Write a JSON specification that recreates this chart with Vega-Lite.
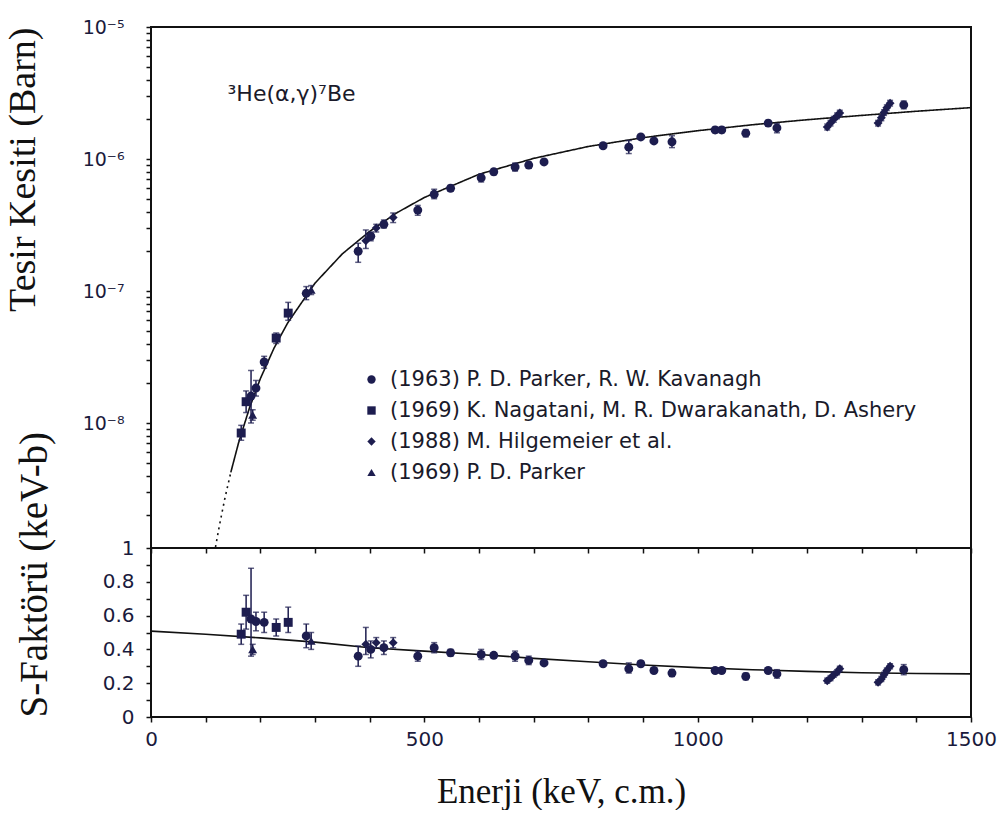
{
  "$schema": "https://vega.github.io/schema/vega-lite/v6.json",
  "background": "white",
  "padding": {"left": 3, "top": 17, "right": 10, "bottom": 0},
  "config": {
    "view": {"stroke": "#111", "strokeWidth": 2, "fill": null},
    "axis": {"grid": false, "domain": false, "ticks": true, "zindex": 2, "tickColor": "#111", "tickOpacity": 1, "tickWidth": 1.5, "tickSize": 5, "offset": 0, "labelFont": "DejaVu Sans", "labelColor": "#1a1a3c", "labelFontSize": 20, "titleFont": "Liberation Serif", "titleFontWeight": "normal", "titleColor": "#111", "titleFontSize": 34, "labelOverlap": false, "labelFlush": false}
  },
  "datasets": {
    "pts": [
      {"E": 165, "sig": 8.4e-9, "sigLo": 7.4e-9, "sigHi": 9.6e-9, "S": 0.49, "sLo": 0.43, "sHi": 0.55, "series": "(1969) K. Nagatani, M. R. Dwarakanath, D. Ashery"},
      {"E": 174, "sig": 1.45e-8, "sigLo": 1.2e-8, "sigHi": 1.75e-8, "S": 0.62, "sLo": 0.52, "sHi": 0.72, "series": "(1969) K. Nagatani, M. R. Dwarakanath, D. Ashery"},
      {"E": 183, "sig": 1.6e-8, "sigLo": 1.0e-8, "sigHi": 2.5e-8, "S": 0.58, "sLo": 0.36, "sHi": 0.88, "series": "(1963) P. D. Parker, R. W. Kavanagh"},
      {"E": 186, "sig": 1.15e-8, "sigLo": 1.05e-8, "sigHi": 1.26e-8, "S": 0.4, "sLo": 0.37, "sHi": 0.43, "series": "(1969) P. D. Parker"},
      {"E": 192, "sig": 1.84e-8, "sigLo": 1.6e-8, "sigHi": 2.1e-8, "S": 0.565, "sLo": 0.51, "sHi": 0.62, "series": "(1963) P. D. Parker, R. W. Kavanagh"},
      {"E": 207, "sig": 2.9e-8, "sigLo": 2.6e-8, "sigHi": 3.2e-8, "S": 0.56, "sLo": 0.5, "sHi": 0.62, "series": "(1963) P. D. Parker, R. W. Kavanagh"},
      {"E": 229, "sig": 4.4e-8, "sigLo": 4.0e-8, "sigHi": 4.8e-8, "S": 0.53, "sLo": 0.48, "sHi": 0.58, "series": "(1969) K. Nagatani, M. R. Dwarakanath, D. Ashery"},
      {"E": 251, "sig": 6.8e-8, "sigLo": 6.0e-8, "sigHi": 8.2e-8, "S": 0.56, "sLo": 0.5, "sHi": 0.65, "series": "(1969) K. Nagatani, M. R. Dwarakanath, D. Ashery"},
      {"E": 284, "sig": 9.6e-8, "sigLo": 8.6e-8, "sigHi": 1.08e-7, "S": 0.48, "sLo": 0.41, "sHi": 0.55, "series": "(1963) P. D. Parker, R. W. Kavanagh"},
      {"E": 293, "sig": 1.02e-7, "sigLo": 9.4e-8, "sigHi": 1.1e-7, "S": 0.45, "sLo": 0.4, "sHi": 0.5, "series": "(1969) P. D. Parker"},
      {"E": 379, "sig": 2.0e-7, "sigLo": 1.65e-7, "sigHi": 2.3e-7, "S": 0.36, "sLo": 0.3, "sHi": 0.42, "series": "(1963) P. D. Parker, R. W. Kavanagh"},
      {"E": 393, "sig": 2.4e-7, "sigLo": 2.1e-7, "sigHi": 2.9e-7, "S": 0.43, "sLo": 0.37, "sHi": 0.53, "series": "(1988) M. Hilgemeier et al."},
      {"E": 402, "sig": 2.6e-7, "sigLo": 2.4e-7, "sigHi": 2.8e-7, "S": 0.4, "sLo": 0.35, "sHi": 0.45, "series": "(1963) P. D. Parker, R. W. Kavanagh"},
      {"E": 412, "sig": 3.0e-7, "sigLo": 2.8e-7, "sigHi": 3.2e-7, "S": 0.44, "sLo": 0.41, "sHi": 0.47, "series": "(1988) M. Hilgemeier et al."},
      {"E": 426, "sig": 3.2e-7, "sigLo": 3.0e-7, "sigHi": 3.45e-7, "S": 0.41, "sLo": 0.37, "sHi": 0.45, "series": "(1963) P. D. Parker, R. W. Kavanagh"},
      {"E": 443, "sig": 3.6e-7, "sigLo": 3.3e-7, "sigHi": 3.9e-7, "S": 0.44, "sLo": 0.41, "sHi": 0.47, "series": "(1988) M. Hilgemeier et al."},
      {"E": 488, "sig": 4.1e-7, "sigLo": 3.75e-7, "sigHi": 4.45e-7, "S": 0.36, "sLo": 0.33, "sHi": 0.39, "series": "(1963) P. D. Parker, R. W. Kavanagh"},
      {"E": 518, "sig": 5.4e-7, "sigLo": 5.0e-7, "sigHi": 5.9e-7, "S": 0.41, "sLo": 0.38, "sHi": 0.44, "series": "(1963) P. D. Parker, R. W. Kavanagh"},
      {"E": 548, "sig": 6.0e-7, "sigLo": 5.7e-7, "sigHi": 6.3e-7, "S": 0.38, "sLo": 0.36, "sHi": 0.4, "series": "(1963) P. D. Parker, R. W. Kavanagh"},
      {"E": 604, "sig": 7.2e-7, "sigLo": 6.7e-7, "sigHi": 7.7e-7, "S": 0.37, "sLo": 0.34, "sHi": 0.4, "series": "(1963) P. D. Parker, R. W. Kavanagh"},
      {"E": 627, "sig": 8.0e-7, "sigLo": 7.6e-7, "sigHi": 8.4e-7, "S": 0.365, "sLo": 0.35, "sHi": 0.38, "series": "(1963) P. D. Parker, R. W. Kavanagh"},
      {"E": 666, "sig": 8.7e-7, "sigLo": 8.1e-7, "sigHi": 9.3e-7, "S": 0.36, "sLo": 0.33, "sHi": 0.39, "series": "(1963) P. D. Parker, R. W. Kavanagh"},
      {"E": 691, "sig": 9.0e-7, "sigLo": 8.5e-7, "sigHi": 9.5e-7, "S": 0.335, "sLo": 0.31, "sHi": 0.36, "series": "(1963) P. D. Parker, R. W. Kavanagh"},
      {"E": 719, "sig": 9.5e-7, "sigLo": 9.1e-7, "sigHi": 9.9e-7, "S": 0.32, "sLo": 0.31, "sHi": 0.33, "series": "(1963) P. D. Parker, R. W. Kavanagh"},
      {"E": 827, "sig": 1.26e-6, "sigLo": 1.21e-6, "sigHi": 1.31e-6, "S": 0.315, "sLo": 0.3, "sHi": 0.33, "series": "(1963) P. D. Parker, R. W. Kavanagh"},
      {"E": 874, "sig": 1.23e-6, "sigLo": 1.1e-6, "sigHi": 1.38e-6, "S": 0.285, "sLo": 0.26, "sHi": 0.32, "series": "(1963) P. D. Parker, R. W. Kavanagh"},
      {"E": 896, "sig": 1.47e-6, "sigLo": 1.42e-6, "sigHi": 1.52e-6, "S": 0.315, "sLo": 0.3, "sHi": 0.33, "series": "(1963) P. D. Parker, R. W. Kavanagh"},
      {"E": 920, "sig": 1.37e-6, "sigLo": 1.32e-6, "sigHi": 1.42e-6, "S": 0.275, "sLo": 0.26, "sHi": 0.29, "series": "(1963) P. D. Parker, R. W. Kavanagh"},
      {"E": 953, "sig": 1.35e-6, "sigLo": 1.22e-6, "sigHi": 1.5e-6, "S": 0.26, "sLo": 0.24, "sHi": 0.28, "series": "(1963) P. D. Parker, R. W. Kavanagh"},
      {"E": 1032, "sig": 1.66e-6, "sigLo": 1.58e-6, "sigHi": 1.74e-6, "S": 0.275, "sLo": 0.26, "sHi": 0.29, "series": "(1963) P. D. Parker, R. W. Kavanagh"},
      {"E": 1044, "sig": 1.66e-6, "sigLo": 1.58e-6, "sigHi": 1.74e-6, "S": 0.275, "sLo": 0.26, "sHi": 0.29, "series": "(1963) P. D. Parker, R. W. Kavanagh"},
      {"E": 1088, "sig": 1.57e-6, "sigLo": 1.47e-6, "sigHi": 1.67e-6, "S": 0.24, "sLo": 0.22, "sHi": 0.26, "series": "(1963) P. D. Parker, R. W. Kavanagh"},
      {"E": 1129, "sig": 1.87e-6, "sigLo": 1.78e-6, "sigHi": 1.96e-6, "S": 0.275, "sLo": 0.26, "sHi": 0.29, "series": "(1963) P. D. Parker, R. W. Kavanagh"},
      {"E": 1145, "sig": 1.72e-6, "sigLo": 1.58e-6, "sigHi": 1.86e-6, "S": 0.255, "sLo": 0.23, "sHi": 0.28, "series": "(1963) P. D. Parker, R. W. Kavanagh"},
      {"E": 1237, "sig": 1.75e-6, "sigLo": 1.66e-6, "sigHi": 1.84e-6, "S": 0.215, "sLo": 0.2, "sHi": 0.23, "series": "(1988) M. Hilgemeier et al."},
      {"E": 1243, "sig": 1.87e-6, "sigLo": 1.78e-6, "sigHi": 1.96e-6, "S": 0.23, "sLo": 0.215, "sHi": 0.245, "series": "(1988) M. Hilgemeier et al."},
      {"E": 1249, "sig": 2.0e-6, "sigLo": 1.9e-6, "sigHi": 2.1e-6, "S": 0.25, "sLo": 0.235, "sHi": 0.265, "series": "(1988) M. Hilgemeier et al."},
      {"E": 1255, "sig": 2.12e-6, "sigLo": 2.02e-6, "sigHi": 2.23e-6, "S": 0.265, "sLo": 0.25, "sHi": 0.28, "series": "(1988) M. Hilgemeier et al."},
      {"E": 1260, "sig": 2.23e-6, "sigLo": 2.12e-6, "sigHi": 2.34e-6, "S": 0.285, "sLo": 0.27, "sHi": 0.3, "series": "(1988) M. Hilgemeier et al."},
      {"E": 1330, "sig": 1.87e-6, "sigLo": 1.78e-6, "sigHi": 1.96e-6, "S": 0.205, "sLo": 0.19, "sHi": 0.22, "series": "(1988) M. Hilgemeier et al."},
      {"E": 1336, "sig": 2.05e-6, "sigLo": 1.95e-6, "sigHi": 2.15e-6, "S": 0.225, "sLo": 0.21, "sHi": 0.24, "series": "(1988) M. Hilgemeier et al."},
      {"E": 1341, "sig": 2.25e-6, "sigLo": 2.14e-6, "sigHi": 2.36e-6, "S": 0.25, "sLo": 0.235, "sHi": 0.265, "series": "(1988) M. Hilgemeier et al."},
      {"E": 1346, "sig": 2.45e-6, "sigLo": 2.33e-6, "sigHi": 2.57e-6, "S": 0.275, "sLo": 0.26, "sHi": 0.29, "series": "(1988) M. Hilgemeier et al."},
      {"E": 1352, "sig": 2.65e-6, "sigLo": 2.52e-6, "sigHi": 2.78e-6, "S": 0.3, "sLo": 0.285, "sHi": 0.315, "series": "(1988) M. Hilgemeier et al."},
      {"E": 1377, "sig": 2.57e-6, "sigLo": 2.4e-6, "sigHi": 2.75e-6, "S": 0.28, "sLo": 0.25, "sHi": 0.31, "series": "(1963) P. D. Parker, R. W. Kavanagh"}
    ],
    "fit": [
      {"E": 118, "sig": 1.15e-9, "seg": "extrapolated"},
      {"E": 125, "sig": 1.66e-9, "seg": "extrapolated"},
      {"E": 135, "sig": 2.67e-9, "seg": "extrapolated"},
      {"E": 146, "sig": 4.23e-9, "seg": "extrapolated"},
      {"E": 146, "sig": 4.23e-9, "seg": "fit"},
      {"E": 160, "sig": 7.03e-9, "seg": "fit"},
      {"E": 180, "sig": 1.297e-8, "seg": "fit"},
      {"E": 200, "sig": 2.166e-8, "seg": "fit"},
      {"E": 225, "sig": 3.69e-8, "seg": "fit"},
      {"E": 250, "sig": 5.73e-8, "seg": "fit"},
      {"E": 300, "sig": 1.147e-7, "seg": "fit"},
      {"E": 350, "sig": 1.912e-7, "seg": "fit"},
      {"E": 400, "sig": 2.83e-7, "seg": "fit"},
      {"E": 450, "sig": 3.92e-7, "seg": "fit"},
      {"E": 500, "sig": 5.11e-7, "seg": "fit"},
      {"E": 600, "sig": 7.66e-7, "seg": "fit"},
      {"E": 700, "sig": 1.011e-6, "seg": "fit"},
      {"E": 800, "sig": 1.244e-6, "seg": "fit"},
      {"E": 900, "sig": 1.451e-6, "seg": "fit"},
      {"E": 1000, "sig": 1.638e-6, "seg": "fit"},
      {"E": 1100, "sig": 1.817e-6, "seg": "fit"},
      {"E": 1200, "sig": 1.984e-6, "seg": "fit"},
      {"E": 1300, "sig": 2.139e-6, "seg": "fit"},
      {"E": 1400, "sig": 2.3e-6, "seg": "fit"},
      {"E": 1500, "sig": 2.45e-6, "seg": "fit"}
    ],
    "fitS": [
      {"E": 0, "S": 0.508}, {"E": 100, "S": 0.49}, {"E": 200, "S": 0.468}, {"E": 300, "S": 0.443},
      {"E": 400, "S": 0.41}, {"E": 500, "S": 0.39}, {"E": 600, "S": 0.37}, {"E": 700, "S": 0.347},
      {"E": 800, "S": 0.327}, {"E": 900, "S": 0.308}, {"E": 1000, "S": 0.292}, {"E": 1100, "S": 0.28},
      {"E": 1200, "S": 0.27}, {"E": 1300, "S": 0.262}, {"E": 1400, "S": 0.257}, {"E": 1500, "S": 0.255}
    ]
  },
  "spacing": 0,
  "bounds": "flush",
  "resolve": {"scale": {"x": "independent", "y": "independent", "shape": "independent"}, "legend": {"shape": "independent"}},
  "vconcat": [
    {
      "width": 820,
      "height": 521,
      "resolve": {"axis": {"x": "independent", "y": "independent"}},
      "layer": [
        {
          "data": {"name": "fit"},
          "mark": {"type": "line", "color": "#111", "strokeWidth": 1.6},
          "encoding": {
            "x": {"field": "E", "type": "quantitative", "scale": {"domain": [0, 1500], "nice": false, "zero": false},
                  "axis": {"orient": "top", "labels": false, "title": null, "ticks": false, "values": [0,500,1000,1500]}},
            "y": {"field": "sig", "type": "quantitative", "scale": {"type": "log", "domain": [1.13e-9, 1e-5], "nice": false},
                  "axis": {"orient": "right", "labels": false, "title": null, "ticks": false, "values": [1e-8,1e-7,1e-6,1e-5]}},
            "strokeDash": {"field": "seg", "type": "nominal", "scale": {"domain": ["fit", "extrapolated"], "range": [[1, 0], [2, 4]]}, "legend": null}
          }
        },
        {
          "data": {"name": "pts"},
          "mark": {"type": "errorbar", "ticks": {"size": 6, "color": "#1d1d4f"}, "color": "#1d1d4f", "thickness": 1.5},
          "encoding": {
            "x": {"field": "E", "type": "quantitative",
                  "axis": {"orient": "bottom", "labels": false, "title": null, "ticks": true, "tickColor": "#111", "tickSize": 5, "offset": 0, "values": [0,100,200,300,400,500,600,700,800,900,1000,1100,1200,1300,1400,1500]}},
            "y": {"field": "sigLo", "type": "quantitative",
                  "axis": {"orient": "left", "title": "Tesir Kesiti (Barn)", "titleAnchor": "end", "titleFontSize": 38, "titlePadding": 40, "labelPadding": 22, "labelFontSize": 19,
                           "ticks": true, "tickColor": "#111", "tickSize": 5, "offset": 0,
                           "values": [2e-9,3e-9,4e-9,5e-9,6e-9,7e-9,8e-9,9e-9,1e-8,2e-8,3e-8,4e-8,5e-8,6e-8,7e-8,8e-8,9e-8,1e-7,2e-7,3e-7,4e-7,5e-7,6e-7,7e-7,8e-7,9e-7,1e-6,2e-6,3e-6,4e-6,5e-6,6e-6,7e-6,8e-6,9e-6,1e-5],
                           "labelExpr": "abs(log(datum.value)/LN10 - round(log(datum.value)/LN10)) < 0.01 ? (round(log(datum.value)/LN10) == -5 ? '10⁻⁵' : round(log(datum.value)/LN10) == -6 ? '10⁻⁶' : round(log(datum.value)/LN10) == -7 ? '10⁻⁷' : '10⁻⁸') : ''"}},
            "y2": {"field": "sigHi"}
          }
        },
        {
          "data": {"name": "pts"},
          "mark": {"type": "point", "filled": true, "opacity": 1, "color": "#1d1d4f", "size": 80},
          "encoding": {
            "x": {"field": "E", "type": "quantitative", "axis": null},
            "y": {"field": "sig", "type": "quantitative", "axis": null},
            "shape": {"field": "series", "type": "nominal",
                      "scale": {"domain": ["(1963) P. D. Parker, R. W. Kavanagh", "(1969) K. Nagatani, M. R. Dwarakanath, D. Ashery", "(1988) M. Hilgemeier et al.", "(1969) P. D. Parker"], "range": ["circle", "square", "diamond", "triangle-up"]},
                      "legend": {"orient": "none", "legendX": 210, "legendY": 342, "title": null, "labelFont": "DejaVu Sans", "labelFontSize": 21, "labelLimit": 0, "labelColor": "#1a1a2a", "symbolSize": 70, "symbolFillColor": "#1d1d4f", "symbolStrokeColor": "#1d1d4f", "rowPadding": 9, "labelOffset": 8}}
          }
        },
        {
          "data": {"values": [{"E": 140, "sig": 3.1e-6, "label": "³He(α,γ)⁷Be"}]},
          "mark": {"type": "text", "align": "left", "baseline": "middle", "font": "DejaVu Sans", "fontSize": 22, "color": "#1a1a2a"},
          "encoding": {
            "x": {"field": "E", "type": "quantitative", "axis": null},
            "y": {"field": "sig", "type": "quantitative", "axis": null},
            "text": {"field": "label"}
          }
        }
      ]
    },
    {
      "width": 820,
      "height": 169,
      "resolve": {"axis": {"x": "independent", "y": "independent"}},
      "layer": [
        {
          "data": {"name": "fitS"},
          "mark": {"type": "line", "color": "#111", "strokeWidth": 1.6},
          "encoding": {
            "x": {"field": "E", "type": "quantitative", "scale": {"domain": [0, 1500], "nice": false, "zero": false},
                  "axis": {"orient": "top", "labels": false, "title": null, "ticks": false, "values": [0,500,1000,1500]}},
            "y": {"field": "S", "type": "quantitative", "scale": {"domain": [0, 1], "nice": false},
                  "axis": {"orient": "right", "labels": false, "title": null, "ticks": false, "values": [0,0.5,1]}}
          }
        },
        {
          "data": {"name": "pts"},
          "mark": {"type": "errorbar", "ticks": {"size": 6, "color": "#1d1d4f"}, "color": "#1d1d4f", "thickness": 1.5},
          "encoding": {
            "x": {"field": "E", "type": "quantitative",
                  "axis": {"orient": "bottom", "title": "Enerji (keV, c.m.)", "titleFontSize": 35, "titlePadding": 25, "labelPadding": 7, "labelFontSize": 20, "ticks": true, "tickColor": "#111", "offset": 0, "tickSize": 5,
                           "values": [0,100,200,300,400,500,600,700,800,900,1000,1100,1200,1300,1400,1500],
                           "labelExpr": "datum.value % 500 == 0 ? format(datum.value, 'd') : ''"}},
            "y": {"field": "sLo", "type": "quantitative",
                  "axis": {"orient": "left", "title": "S-Faktörü (keV-b)", "titleAnchor": "start", "titleFontSize": 39, "titlePadding": 48, "labelPadding": 12, "labelFontSize": 20, "ticks": true, "tickColor": "#111", "offset": 0, "tickSize": 5,
                           "values": [0,0.1,0.2,0.3,0.4,0.5,0.6,0.7,0.8,0.9,1],
                           "labelExpr": "round(datum.value*10) % 2 == 0 ? format(datum.value, '~g') : ''"}},
            "y2": {"field": "sHi"}
          }
        },
        {
          "data": {"name": "pts"},
          "mark": {"type": "point", "filled": true, "opacity": 1, "color": "#1d1d4f", "size": 80},
          "encoding": {
            "x": {"field": "E", "type": "quantitative", "axis": null},
            "y": {"field": "S", "type": "quantitative", "axis": null},
            "shape": {"field": "series", "type": "nominal",
                      "scale": {"domain": ["(1963) P. D. Parker, R. W. Kavanagh", "(1969) K. Nagatani, M. R. Dwarakanath, D. Ashery", "(1988) M. Hilgemeier et al.", "(1969) P. D. Parker"], "range": ["circle", "square", "diamond", "triangle-up"]},
                      "legend": null}
          }
        }
      ]
    }
  ]
}
